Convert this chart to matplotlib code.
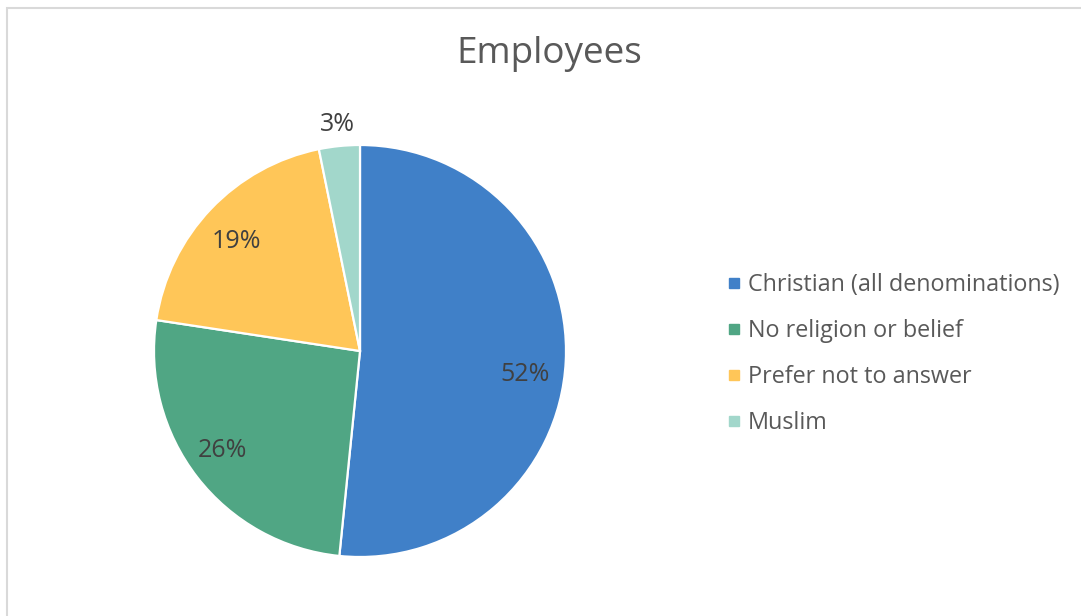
import matplotlib.pyplot as plt
from matplotlib.patches import Rectangle
from matplotlib.lines import Line2D
import numpy as np

plt.rcParams['font.family'] = ['Open Sans', 'DejaVu Sans']

# dane
categories = ["Christian (all denominations)", "No religion or belief",
              "Prefer not to answer", "Muslim"]
shares = [51.6, 25.8, 19.4, 3.2]
colors = ["#4080C8", "#50A684", "#FFC658", "#A2D7CB"]

# położenie etykiet: odległość od środka (w promieniach) + przesunięcie w px
label_dist = [0.80, 0.82, 0.816, 1.113]
label_shift = [(0, -15), (-4, 4), (-2, -6), (0, -2)]

W, H = 1081, 616
fig = plt.figure(figsize=(W / 100, H / 100), dpi=100)

# ramka wykresu
fig.add_artist(Rectangle((7 / W, -0.1), 2, (H - 8) / H + 0.1,
                         transform=fig.transFigure, fill=False,
                         edgecolor="#d9d9d9", lw=1.5))

cx, cy, r = 360, 351, 206
ax = fig.add_axes([(cx - r) / W, (H - cy - r) / H, 2 * r / W, 2 * r / H])
wedges, _ = ax.pie(shares, colors=colors, startangle=90, counterclock=False,
                   radius=1, wedgeprops=dict(edgecolor="white", linewidth=1.6))
ax.set_xlim(-1, 1)
ax.set_ylim(-1, 1)
ax.set_aspect("equal")
ax.axis("off")

for w, val, d, sh in zip(wedges, shares, label_dist, label_shift):
    ang = np.deg2rad((w.theta1 + w.theta2) / 2)
    ax.annotate(f"{val:.0f}%", (d * np.cos(ang), d * np.sin(ang)),
                xytext=sh, textcoords="offset pixels", annotation_clip=False,
                ha="center", va="center", fontsize=18, color="#404040")

fig.text(549 / W, 1 - 54 / H, "Employees", ha="center", va="center",
         fontsize=26.6, color="#595959")

handles = [Line2D([], [], marker="s", linestyle="", markersize=7,
                  markerfacecolor=c, markeredgecolor=c) for c in colors]
fig.legend(handles, categories, loc="center left",
           bbox_to_anchor=(706 / W, 1 - 354 / H), frameon=False,
           fontsize=16.8, labelcolor="#595959", handlelength=0.6,
           handletextpad=0.3, labelspacing=0.95)

plt.savefig("out.png", dpi=100)
